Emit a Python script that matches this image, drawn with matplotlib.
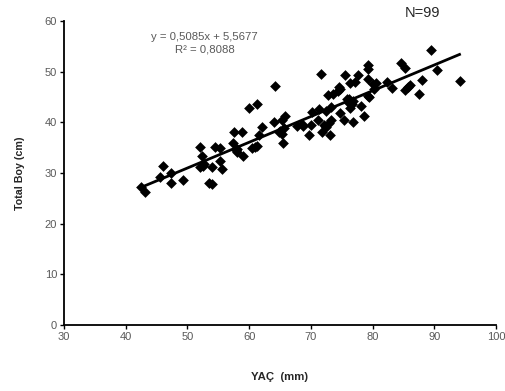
import matplotlib
matplotlib.use("Agg")
import matplotlib.pyplot as plt
import numpy as np

plt.rcParams['font.family'] = ['Liberation Sans', 'DejaVu Sans']

yac_mm = [42.5, 43.1, 45.5, 46.0, 47.3, 47.4, 49.3, 52.1, 52.3, 52.0, 52.5, 54.0, 53.5, 54.0,
          54.5, 55.3, 55.2, 55.6, 57.4, 57.6, 57.9, 58.1, 58.8, 59.0, 60.0, 60.4, 61.2, 61.3,
          61.6, 62.1, 64.0, 64.2, 64.8, 65.3, 65.5, 65.4, 65.8, 65.7, 67.8, 68.5, 68.8, 69.7,
          70.0, 70.2, 71.1, 71.3, 71.7, 71.8, 72.1, 72.4, 72.7, 72.9, 73.1, 73.2, 73.3, 73.6,
          74.4, 74.6, 74.7, 75.4, 75.5, 75.9, 76.1, 76.3, 76.4, 76.7, 76.9, 76.8, 77.1, 77.6,
          78.1, 78.6, 79.2, 79.2, 79.3, 79.2, 80.0, 80.3, 80.5, 82.3, 83.2, 84.6, 85.3, 85.3,
          85.8, 86.0, 87.5, 88.0, 89.4, 90.5, 94.1,
          65.0, 76.2, 72.5, 52.6, 58.0, 74.8, 79.5, 61.0]
total_boy_cm = [27.3, 26.2, 29.2, 31.4, 30.0, 28.0, 28.6, 35.2, 33.4, 31.1, 31.4, 31.2, 28.1, 27.8,
                35.1, 35.0, 32.4, 30.7, 36.0, 38.1, 34.5, 34.2, 38.1, 33.3, 42.8, 35.0, 43.7, 35.4,
                37.5, 39.1, 40.0, 47.2, 38.1, 37.8, 36.0, 40.4, 41.3, 38.8, 39.2, 39.7, 39.2, 37.5,
                39.5, 42.0, 40.4, 42.7, 49.5, 38.1, 39.4, 42.2, 45.5, 39.8, 37.5, 40.4, 43.1, 45.6,
                46.2, 47.0, 41.8, 40.4, 49.3, 44.7, 44.1, 42.9, 47.7, 43.6, 44.3, 40.1, 48.0, 49.3,
                43.2, 41.3, 48.6, 51.3, 45.3, 50.5, 47.6, 46.5, 47.7, 48.0, 46.7, 51.8, 50.7, 46.4,
                46.9, 47.3, 45.6, 48.4, 54.3, 50.3, 48.2,
                38.3, 44.6, 39.0, 31.8, 34.8, 46.5, 45.0, 35.2]

slope, intercept = 0.5085, 5.5677
equation = "y = 0,5085x + 5,5677"
r2_text = "R² = 0,8088"
n_text = "N=99"

x_ticks = [30, 40, 50, 60, 70, 80, 90, 100]
y_ticks = [0, 10, 20, 30, 40, 50, 60]

fig = plt.figure(figsize=(5.05, 3.91), dpi=100)
ax = fig.add_axes([0.127, 0.169, 0.855, 0.777])

ax.scatter(yac_mm, total_boy_cm, marker='D', s=30, color='black', zorder=3, linewidths=0)
xs = np.array([min(yac_mm), max(yac_mm)])
ax.plot(xs, slope * xs + intercept, color='black', linewidth=2, zorder=4)

ax.set_xlim(30, 100)
ax.set_ylim(0, 60)
ax.set_xticks(x_ticks)
ax.set_yticks(y_ticks)
for s in ['top', 'right']:
    ax.spines[s].set_visible(False)
for s in ['left', 'bottom']:
    ax.spines[s].set_linewidth(1.3)
ax.tick_params(direction='out', length=3, width=1, labelsize=8, labelcolor='#595959', pad=2)

ax.set_xlabel("YAÇ  (mm)", fontsize=8.2, fontweight='bold', color='#262626', labelpad=22)
ax.set_ylabel("Total Boy (cm)", fontsize=7.7, fontweight='bold', color='#262626', labelpad=14)

ax.text(52.8, 56.9, equation, fontsize=8.2, color='#595959', ha='center', va='center')
ax.text(52.8, 54.4, r2_text, fontsize=8.2, color='#595959', ha='center', va='center')
fig.text(422 / 505, 1 - 13 / 391, n_text, fontsize=10.5, color='#262626', ha='center', va='center')

fig.savefig("out.png", dpi=100)
